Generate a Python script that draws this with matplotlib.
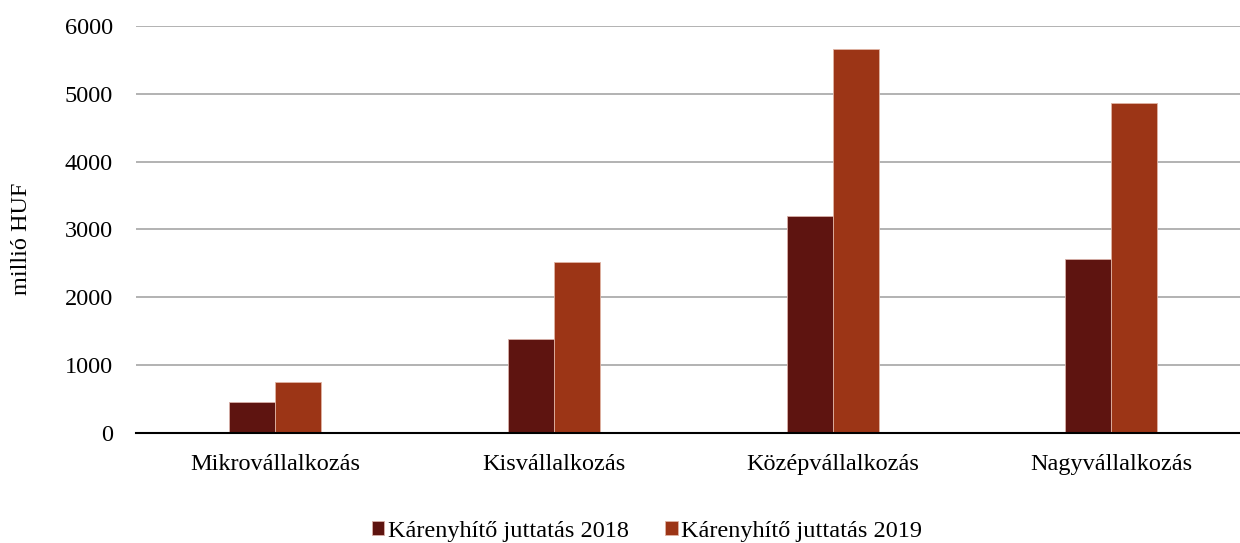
import matplotlib.pyplot as plt
import numpy as np

plt.rcParams['font.family'] = ['Liberation Serif', 'DejaVu Serif']

categories = ["Mikrovállalkozás", "Kisvállalkozás", "Középvállalkozás", "Nagyvállalkozás"]
values_2018 = [460, 1390, 3200, 2565]
values_2019 = [750, 2520, 5660, 4860]
series_names = ["Kárenyhítő juttatás 2018", "Kárenyhítő juttatás 2019"]
yticks = [0, 1000, 2000, 3000, 4000, 5000, 6000]

fs = 17.5
fig = plt.figure(figsize=(12.4, 5.43), dpi=100)
ax = fig.add_axes([0.1097, 0.2026, 0.899, 0.7495])

x = np.arange(len(categories))
w = 0.165
ax.bar(x - w / 2, values_2018, w, color='#5E1410', edgecolor='#D9B0A8', linewidth=0.6,
       label=series_names[0], zorder=3)
ax.bar(x + w / 2, values_2019, w, color='#9C3516', edgecolor='#E0B4A4', linewidth=0.6,
       label=series_names[1], zorder=3)

ax.set_xlim(-0.5, 3.5)
ax.set_ylim(0, 6000)
ax.set_yticks(yticks)
ax.set_yticklabels([str(t) for t in yticks], fontsize=fs)
ax.set_xticks(x)
ax.set_xticklabels(categories, fontsize=fs)
ax.tick_params(axis='both', length=0)
ax.tick_params(axis='y', pad=16.5)
ax.tick_params(axis='x', pad=15)
ax.grid(axis='y', color='#A6A6A6', linewidth=1.2, zorder=0)
for s in ['top', 'right', 'left']:
    ax.spines[s].set_visible(False)
ax.spines['bottom'].set_color('black')
ax.spines['bottom'].set_linewidth(1.5)
ax.spines['bottom'].set_zorder(4)

ax.set_ylabel("millió HUF", fontsize=fs)
ax.yaxis.set_label_coords(-0.093, 0.477)

fig.legend(loc='center', bbox_to_anchor=(0.522, 0.022), ncol=2, frameon=False,
           fontsize=fs, handlelength=0.5, handleheight=0.5, handletextpad=0.15,
           columnspacing=1.5)

fig.savefig("out.png", dpi=100)
